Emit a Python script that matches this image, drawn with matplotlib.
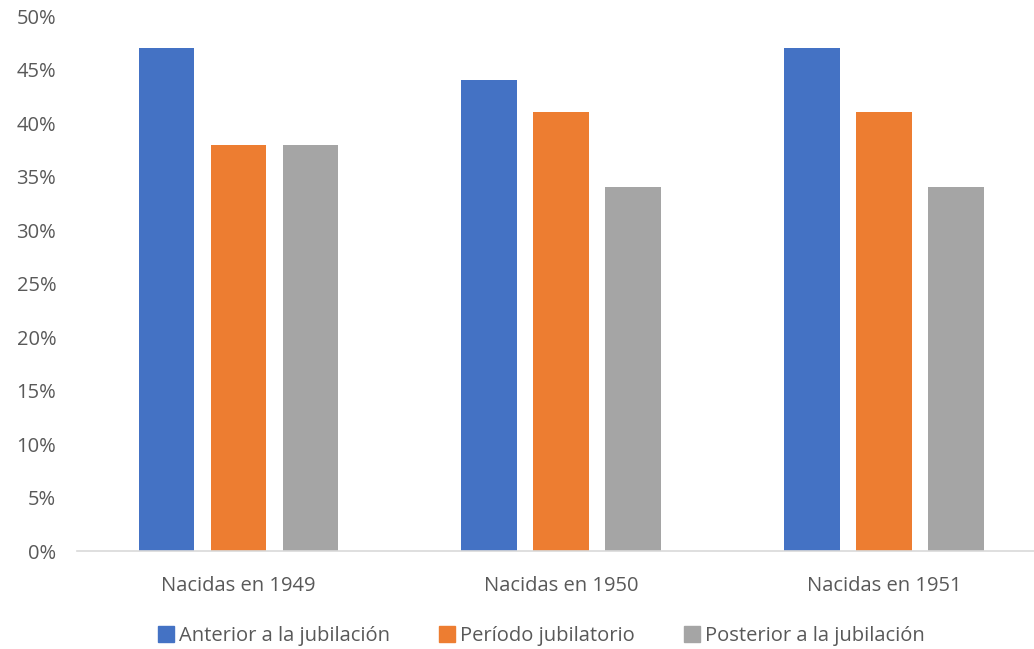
import numpy as np
import matplotlib.pyplot as plt
from matplotlib.ticker import PercentFormatter

plt.rcParams['font.family'] = ['Open Sans', 'DejaVu Sans']

groups = ["Nacidas en 1949", "Nacidas en 1950", "Nacidas en 1951"]
series = ["Anterior a la jubilación", "Período jubilatorio", "Posterior a la jubilación"]
anterior = [47, 44, 47]
periodo = [38, 41, 41]
posterior = [38, 34, 34]
colors = ["#4472C4", "#ED7D31", "#A5A5A5"]
TEXT = "#595959"

fig = plt.figure(figsize=(10.34, 6.49), dpi=100)
ax = fig.add_axes([0.0745, 0.151, 0.9255, 0.824])

xs = np.arange(len(groups))
width = 0.173
step = 0.223
for i, (name, vals, c) in enumerate(zip(series, [anterior, periodo, posterior], colors)):
    ax.bar(xs + (i - 1) * step, vals, width, color=c, label=name)

ax.set_xlim(-0.5, 2.464)
ax.set_ylim(0, 50)
ax.set_yticks(np.arange(0, 51, 5))
ax.yaxis.set_major_formatter(PercentFormatter(decimals=0))
ax.set_xticks(xs)
ax.set_xticklabels(groups)
ax.tick_params(length=0, labelsize=14.5, colors=TEXT)
ax.tick_params(axis="x", pad=18)
ax.tick_params(axis="y", pad=15)

for s in ["top", "right", "left"]:
    ax.spines[s].set_visible(False)
ax.spines["bottom"].set_color("#D9D9D9")
ax.spines["bottom"].set_linewidth(1.2)

handles = [plt.Line2D([], [], marker="s", ls="", color=c, markersize=12) for c in colors]
fig.legend(handles, series, loc="center", bbox_to_anchor=(0.522, 0.02), ncol=3,
           frameon=False, fontsize=14.5, labelcolor=TEXT, handletextpad=0.1,
           columnspacing=2.3, handlelength=1.1)

fig.savefig("out.png", facecolor="white")
